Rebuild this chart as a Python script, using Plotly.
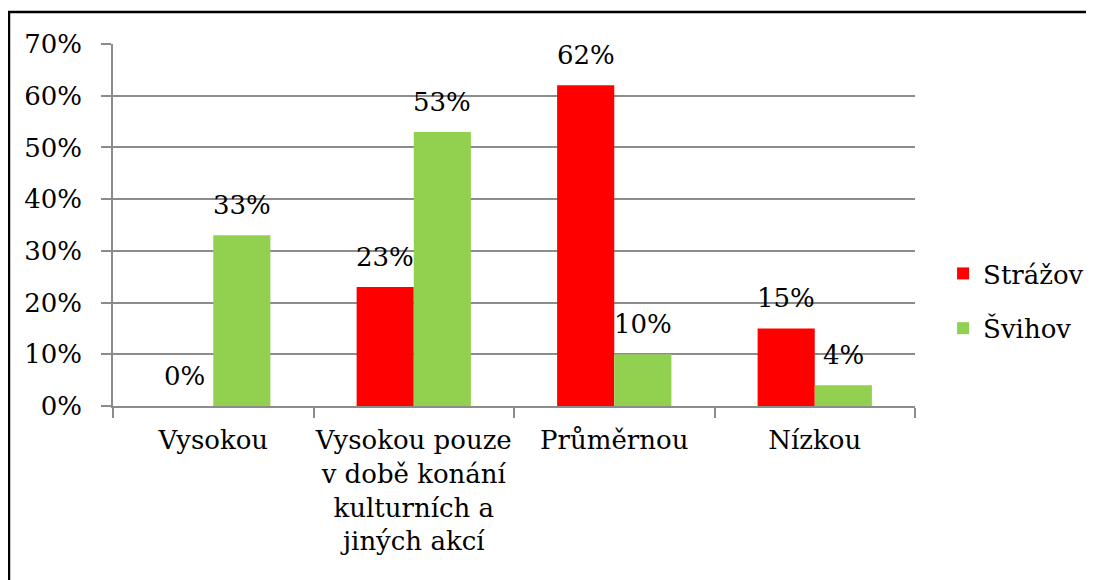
import plotly.graph_objects as go

categories = ["Vysokou", "Vysokou pouze<br>v době konání<br>kulturních a<br>jiných akcí", "Průměrnou", "Nízkou"]
strazov = [0.00, 0.23, 0.62, 0.15]
svihov = [0.33, 0.53, 0.10, 0.04]
series_names = ["Strážov", "Švihov"]
colors = ["#FF0000", "#92D050"]

font_family = "DejaVu Serif"
grid_color = "#8c8c8c"

fig = go.Figure()
for i, (name, values) in enumerate(zip(series_names, [strazov, svihov])):
    fig.add_trace(go.Bar(
        x=categories,
        y=values,
        name=name,
        marker_color=colors[i],
        marker_line_width=0,
        legendgroup=name,
    ))

# data labels above each bar (Excel style offset)
annotations = []
for i, values in enumerate([strazov, svihov]):
    shift = -28.5 if i == 0 else 28.5
    for cat, v in zip(categories, values):
        annotations.append(dict(
            x=cat, y=v, xref="x", yref="y",
            text=f"{v * 100:.0f}%",
            showarrow=False,
            xshift=shift, yshift=13,
            yanchor="bottom",
            font=dict(size=26, color="black", family=font_family),
        ))

fig.update_layout(
    width=1086,
    height=572,
    barmode="group",
    bargap=0.43,
    bargroupgap=0,
    plot_bgcolor="white",
    paper_bgcolor="white",
    # page body adds an 8px offset, so margins are trimmed by 8
    margin=dict(l=105, r=179, t=36, b=174, autoexpand=False),
    font=dict(family=font_family, size=26, color="black"),
    annotations=annotations,
    legend=dict(
        x=1.035, y=0.29, xanchor="left", yanchor="middle",
        font=dict(size=26, family=font_family),
        tracegroupgap=18,
        traceorder="grouped",
    ),
    shapes=[dict(
        type="rect", xref="paper", yref="paper",
        x0=-0.1297, x1=1.2207, y0=-0.7, y1=1.0884,
        line=dict(color="black", width=2.5),
    )],
)

fig.update_yaxes(
    range=[0, 0.7],
    dtick=0.1,
    tickformat=".0%",
    showgrid=True,
    gridcolor=grid_color,
    gridwidth=1.5,
    showline=True,
    linecolor=grid_color,
    linewidth=1.5,
    ticks="outside",
    ticklen=10,
    tickcolor=grid_color,
    tickwidth=1.5,
    ticklabelstandoff=14,
    zeroline=False,
    tickfont=dict(family=font_family, size=26),
)
fig.update_xaxes(
    showline=True,
    linecolor=grid_color,
    linewidth=1.5,
    ticks="outside",
    tickson="boundaries",
    ticklen=10,
    tickcolor=grid_color,
    tickwidth=1.5,
    ticklabelstandoff=10,
    tickangle=0,
    tickfont=dict(family=font_family, size=26),
)

fig.write_html("out.html")
